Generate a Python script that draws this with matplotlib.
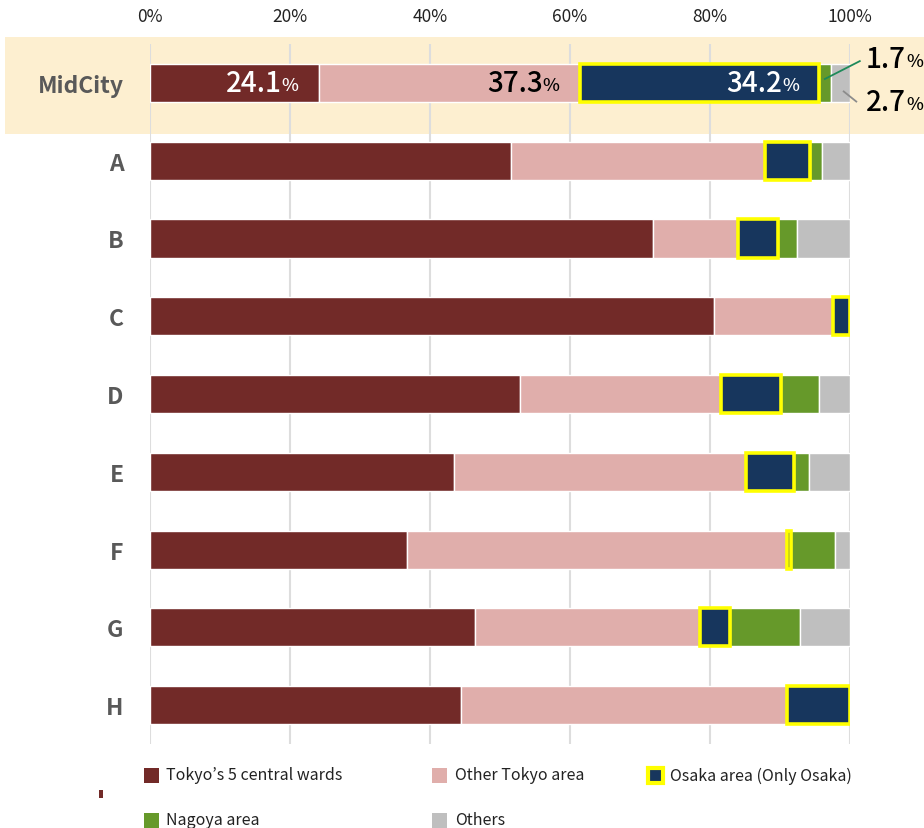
import numpy as np
import matplotlib.pyplot as plt
from matplotlib.patches import Rectangle
from matplotlib.lines import Line2D

plt.rcParams['font.family'] = ['Noto Sans CJK JP', 'DejaVu Sans']

# Share of each area per company (%)
companies = ["MidCity", "A", "B", "C", "D", "E", "F", "G", "H"]
tokyo5 = [24.1, 51.6, 71.9, 80.6, 52.9, 43.4, 36.7, 46.4, 44.4]
other_tokyo = [37.3, 36.3, 12.1, 17.0, 28.6, 41.7, 54.3, 32.1, 46.6]
osaka = [34.2, 6.4, 5.7, 2.4, 8.7, 6.9, 0.6, 4.3, 9.0]
nagoya = [1.7, 1.7, 2.7, 0.0, 5.4, 2.1, 6.3, 10.0, 0.0]
others = [2.7, 4.0, 7.6, 0.0, 4.4, 5.9, 2.1, 7.2, 0.0]

series_names = ["Tokyo’s 5 central wards", "Other Tokyo area",
                "Osaka area (Only Osaka)", "Nagoya area", "Others"]
colors = ["#722A28", "#E0AEAB", "#17365D", "#66992A", "#BFBFBF"]
series = [tokyo5, other_tokyo, osaka, nagoya, others]
xticks = [0, 20, 40, 60, 80, 100]

W, H = 924, 829
fig = plt.figure(figsize=(W / 100, H / 100), dpi=100)
ax = fig.add_axes([150 / W, 1 - 745 / H, 700 / W, 700 / H])

y = np.arange(len(companies))
left = np.zeros(len(companies))
for i, (vals, col) in enumerate(zip(series, colors)):
    vals = np.array(vals)
    if i == 2:
        ax.barh(y, vals, left=left, height=0.49, color=col,
                edgecolor="#FFFF00", linewidth=2.6, zorder=3)
    else:
        ax.barh(y, vals, left=left, height=0.49, color=col,
                edgecolor="white", linewidth=1, zorder=2)
    left += vals

ax.set_xlim(0, 100)
ax.set_ylim(8.5, -0.5)

# highlight band behind the first row
ax.add_patch(Rectangle((-20.7, -0.59), 131.3, 1.25, facecolor="#FDEFD0",
                       edgecolor="none", clip_on=False, zorder=0.1))

ax.set_axisbelow(True)
ax.grid(axis="x", color="#DDDDDD", linewidth=1.5)
ax.xaxis.tick_top()
ax.set_xticks(xticks)
ax.set_xticklabels([f"{t}%" for t in xticks], fontsize=12.5, color="#222222")
ax.tick_params(axis="x", length=0, pad=14)
ax.set_yticks(y)
ax.set_yticklabels(companies, fontsize=16.5, fontweight="bold", color="#595959")
ax.tick_params(axis="y", length=0, pad=19)
for s in ax.spines.values():
    s.set_visible(False)

fig.canvas.draw()
renderer = fig.canvas.get_renderer()
inv = ax.transData.inverted()

# value labels on the first row: number then a smaller "%"
ends = np.cumsum([tokyo5[0], other_tokyo[0], osaka[0]])
label_cols = ["white", "black", "white"]
for val, end, tc in zip([tokyo5[0], other_tokyo[0], osaka[0]], ends, label_cols):
    pct = ax.annotate("%", (end, 0.03), xytext=(-14.5, 0), textcoords="offset points",
                      ha="right", va="center", fontsize=13, fontweight="medium",
                      color=tc, zorder=5)
    bb = pct.get_window_extent(renderer)
    x0 = inv.transform((bb.x0, 0))[0]
    ax.text(x0, 0.0, f"{val}", ha="right", va="center", fontsize=20,
            fontweight="medium", color=tc, zorder=5)

# small shares called out to the right
ax.add_line(Line2D([96.4, 101.4], [-0.05, -0.28], color="#1E8A5A", lw=1.3,
                   clip_on=False, zorder=5))
ax.add_line(Line2D([99.1, 100.9], [0.11, 0.24], color="#8C8C8C", lw=1.3,
                   clip_on=False, zorder=5))
for val, yy in [(nagoya[0], -0.31), (others[0], 0.24)]:
    num = ax.text(102.3, yy, f"{val}", ha="left", va="center", fontsize=20,
                  fontweight="medium", clip_on=False)
    bb = num.get_window_extent(renderer)
    x1 = inv.transform((bb.x1, 0))[0]
    ax.text(x1 + 0.1, yy + 0.03, "%", ha="left", va="center", fontsize=13,
            fontweight="medium", clip_on=False)

# legend
leg_pos = [(151, 776), (440, 776), (655, 776), (151, 821), (440, 821)]
for k, ((px, py), name, col) in enumerate(zip(leg_pos, series_names, colors)):
    fx, fy = px / W, 1 - py / H
    w, h = 15 / W, 15 / H
    if k == 2:
        fig.add_artist(Rectangle((fx - w / 2, fy - h / 2), w, h, facecolor=col,
                                 edgecolor="#FFFF00", linewidth=3))
    else:
        fig.add_artist(Rectangle((fx - w / 2, fy - h / 2), w, h, facecolor=col,
                                 edgecolor="none"))
    fig.text(fx + 15 / W, fy, name, ha="left", va="center", fontsize=11.5,
             color="#222222")

fig.add_artist(Rectangle((99 / W, 1 - 799 / H), 4 / W, 8 / H,
                         facecolor=colors[0], edgecolor="none"))

fig.savefig("out.png", dpi=100)
